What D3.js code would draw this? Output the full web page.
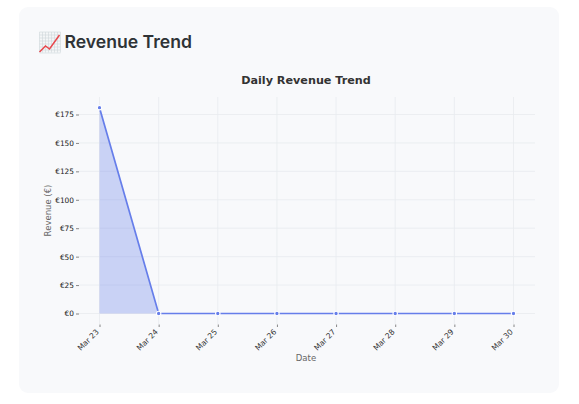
<!DOCTYPE html>
<html>
<head>
<meta charset="utf-8">
<script src="https://cdn.jsdelivr.net/npm/d3@7"></script>
<style>
html,body{margin:0;padding:0;background:#fff;}
svg{display:block;}
</style>
</head>
<body>
<div id="chart"></div>
<script>
const dates = ["Mar 23","Mar 24","Mar 25","Mar 26","Mar 27","Mar 28","Mar 29","Mar 30"];
const revenue = [181,0,0,0,0,0,0,0];
const revenueTicks = [0,25,50,75,100,125,150,175];
const iconTrend = [[0,20],[6,14],[10,17],[20,3]];

const W = 579, H = 404;
const svg = d3.select("#chart").append("svg").attr("width",W).attr("height",H);
const sans = "'DejaVu Sans', sans-serif";

// Card behind the chart
svg.append("rect").attr("x",19).attr("y",7).attr("width",540).attr("height",386)
  .attr("rx",9).attr("fill","#f8f9fb");

// Heading: small chart icon followed by the title
const icon = svg.append("g").attr("transform","translate(39.5,32)");
icon.append("rect").attr("width",21).attr("height",20.5).attr("fill","#f4f6f7");
const iconCells = d3.range(0,22,3);
icon.selectAll("line.v").data(iconCells).join("line").attr("class","v")
  .attr("x1",d=>d).attr("x2",d=>d).attr("y1",0).attr("y2",20.5)
  .attr("stroke","#cfd6da").attr("stroke-width",0.6);
icon.selectAll("line.h").data(iconCells).join("line").attr("class","h")
  .attr("x1",0).attr("x2",21).attr("y1",d=>d).attr("y2",d=>d)
  .attr("stroke","#cfd6da").attr("stroke-width",0.6);
icon.append("path").attr("d",d3.line()(iconTrend)).attr("fill","none")
  .attr("stroke","#e8474c").attr("stroke-width",1.5);

svg.append("text").attr("x",64.5).attr("y",47.5).text("Revenue Trend")
  .attr("font-family","Inter, Roboto, sans-serif").attr("font-weight",600)
  .attr("font-size",17.6).attr("fill","#2f3336");

svg.append("text").attr("x",306).attr("y",84).attr("text-anchor","middle")
  .text("Daily Revenue Trend")
  .attr("font-family",sans).attr("font-weight",700).attr("font-size",11.2)
  .attr("fill","#333");

// Scales
const x = d3.scalePoint().domain(dates).range([99.5,513.5]);
const y = d3.scaleLinear().domain([0,175]).range([313.5,114.5]);

// Grid
const grid = svg.append("g").attr("stroke","#e9ebef").attr("stroke-width",0.8);
grid.selectAll("line.gx").data(dates).join("line").attr("class","gx")
  .attr("x1",d=>x(d)).attr("x2",d=>x(d)).attr("y1",97).attr("y2",324);
grid.selectAll("line.gy").data(revenueTicks).join("line").attr("class","gy")
  .attr("x1",79).attr("x2",535).attr("y1",d=>y(d)).attr("y2",d=>y(d));

// Axes
const yAxis = svg.append("g").attr("transform","translate(79,0)")
  .call(d3.axisLeft(y).tickValues(revenueTicks).tickFormat(d=>"€"+d).tickSize(3).tickPadding(2));
yAxis.select(".domain").remove();
yAxis.selectAll("text").attr("font-family",sans).attr("font-size",7.4).attr("fill","#222");
yAxis.selectAll("line").attr("stroke","#555").attr("stroke-width",0.7);

const xAxis = svg.append("g").attr("transform","translate(0,324.5)")
  .call(d3.axisBottom(x).tickSize(2.5).tickPadding(3));
xAxis.select(".domain").remove();
xAxis.selectAll("line").attr("stroke","#555").attr("stroke-width",0.7);
xAxis.selectAll("text").attr("font-family",sans).attr("font-size",7.6).attr("fill","#333")
  .attr("text-anchor","end").attr("dy",0)
  .attr("transform","translate(-4.5,4) rotate(-45)");

// Axis titles
svg.append("text").attr("x",306).attr("y",361).attr("text-anchor","middle").text("Date")
  .attr("font-family",sans).attr("font-size",8.5).attr("fill","#666");
svg.append("text").attr("transform","translate(50.5,210.5) rotate(-90)").attr("text-anchor","middle")
  .text("Revenue (€)").attr("font-family",sans).attr("font-size",8.5).attr("fill","#666");

// Area, line and points for the daily series
const rows = dates.map((d,i)=>({d,v:revenue[i]}));
svg.append("path").datum(rows)
  .attr("d",d3.area().x(r=>x(r.d)).y0(y(0)).y1(r=>y(r.v)))
  .attr("fill","#667eea").attr("fill-opacity",0.32);
svg.append("path").datum(rows)
  .attr("d",d3.line().x(r=>x(r.d)).y(r=>y(r.v)))
  .attr("fill","none").attr("stroke","#667eea").attr("stroke-width",1.7);
svg.selectAll("circle.pt").data(rows).join("circle").attr("class","pt")
  .attr("cx",r=>x(r.d)).attr("cy",r=>y(r.v)).attr("r",2.2)
  .attr("fill","#667eea").attr("stroke","#fff").attr("stroke-width",1.1);
</script>
</body>
</html>
